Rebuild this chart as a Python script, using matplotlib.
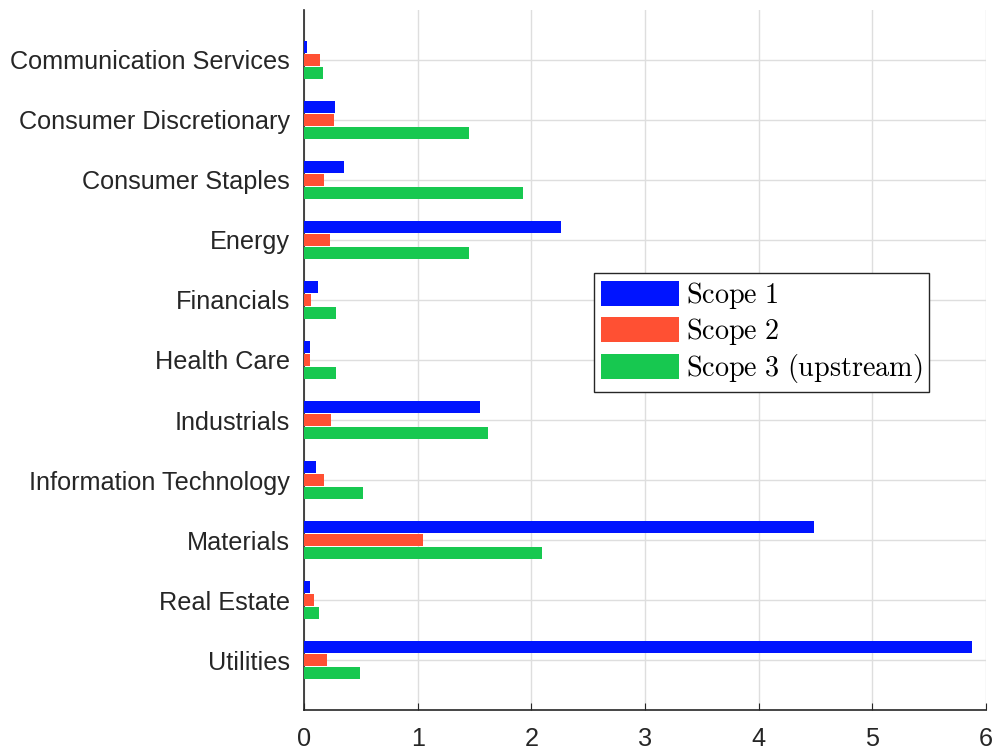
import matplotlib.pyplot as plt
import numpy as np

plt.rcParams['mathtext.fontset'] = 'cm'

sectors = ["Communication Services", "Consumer Discretionary", "Consumer Staples",
           "Energy", "Financials", "Health Care", "Industrials",
           "Information Technology", "Materials", "Real Estate", "Utilities"]
scope1 = [0.03, 0.275, 0.355, 2.26, 0.12, 0.05, 1.55, 0.105, 4.49, 0.05, 5.88]
scope2 = [0.14, 0.26, 0.18, 0.23, 0.06, 0.05, 0.24, 0.18, 1.05, 0.085, 0.20]
scope3 = [0.17, 1.455, 1.925, 1.455, 0.28, 0.28, 1.615, 0.515, 2.09, 0.13, 0.49]
series_names = ["Scope 1", "Scope 2", "Scope 3 (upstream)"]
colors = ["#0014ff", "#ff5033", "#17c850"]

fig = plt.figure(figsize=(9.92, 7.51), dpi=100)
ax = fig.add_axes([304 / 992, 41 / 751, 682 / 992, 700 / 751])

y = np.arange(len(sectors))
step = 0.222
for i, (vals, name, col) in enumerate(zip([scope1, scope2, scope3], series_names, colors)):
    ax.barh(y + (i - 1) * step, vals, height=0.2, color=col,
            label=r'$\mathrm{' + name.replace(' ', r'\ ') + '}$', zorder=3)

ax.set_xlim(0, 6)
ax.set_ylim(len(sectors) - 1 + 0.833, -0.833)
ax.set_yticks(y)
ax.set_yticklabels(sectors)
ax.set_xticks(range(7))
ax.grid(True, color="#dedede", linewidth=1, zorder=0)
for s in ["top", "right"]:
    ax.spines[s].set_visible(False)
for s in ["left", "bottom"]:
    ax.spines[s].set_color("#262626")
    ax.spines[s].set_linewidth(1.2)
ax.tick_params(axis='both', direction='in', colors="#262626", labelsize=18.2, length=5)
ax.tick_params(axis='y', length=0, pad=10)
ax.tick_params(axis='x', pad=12)
for lab in ax.get_xticklabels() + ax.get_yticklabels():
    lab.set_family("Liberation Sans")

leg = ax.legend(loc='upper left', bbox_to_anchor=((594 - 304) / 682, (751 - 273 - 41) / 700),
                fontsize=20.3, fancybox=False, edgecolor="#262626", framealpha=1,
                handlelength=2.75, handleheight=1.0, handletextpad=0.25,
                labelspacing=0.18, borderpad=0.25, borderaxespad=0)
leg.get_frame().set_linewidth(1.0)

fig.savefig("out.png", dpi=100)
